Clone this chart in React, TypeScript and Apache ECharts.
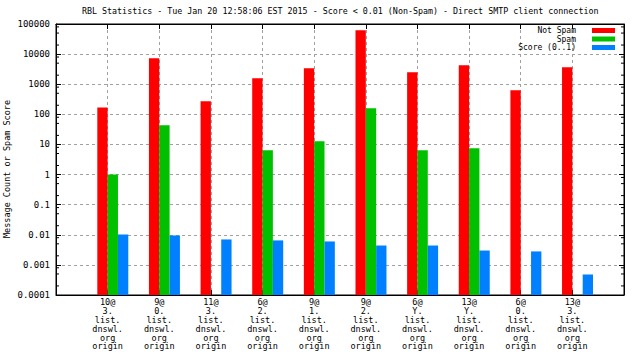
import React, { useEffect, useRef } from 'react';
import * as echarts from 'echarts';

const FONT = '"DejaVu Sans Mono", "Liberation Mono", monospace';

const categories = [
  '10@\n3.\nlist.\ndnswl.\norg\norigin',
  '9@\n0.\nlist.\ndnswl.\norg\norigin',
  '11@\n3.\nlist.\ndnswl.\norg\norigin',
  '6@\n2.\nlist.\ndnswl.\norg\norigin',
  '9@\n1.\nlist.\ndnswl.\norg\norigin',
  '9@\n2.\nlist.\ndnswl.\norg\norigin',
  '6@\nY.\nlist.\ndnswl.\norg\norigin',
  '13@\nY.\nlist.\ndnswl.\norg\norigin',
  '6@\n0.\nlist.\ndnswl.\norg\norigin',
  '13@\n3.\nlist.\ndnswl.\norg\norigin',
];

const notSpam: (number | null)[] = [170, 7300, 270, 1580, 3400, 62000, 2500, 4300, 630, 3650];
const spam: (number | null)[] = [1.0, 43, null, 6.4, 12.8, 160, 6.4, 7.5, null, null];
const score: (number | null)[] = [0.0103, 0.0095, 0.007, 0.0065, 0.006, 0.0044, 0.0044, 0.003, 0.0028, 0.00048];

const yTickLabels = ['0.0001', '0.001', '0.01', '0.1', '1', '10', '100', '1000', '10000', '100000'];
const minorMultipliers = [2, 5, 8];

const seriesNames = ['Not Spam', 'Spam', 'Score (0..1)'];
const seriesColors = ['#ff0000', '#00c000', '#0080ff'];
const seriesValues = [notSpam, spam, score];
const barOffsets = [-0.1, 0.1, 0.3];
const BAR_HALF = 0.1;
const Y_MIN = 0.0001;
const Y_MAX = 100000;

const TITLE = 'RBL Statistics - Tue Jan 20 12:58:06 EST 2015 - Score < 0.01 (Non-Spam) - Direct SMTP client connection';
const Y_NAME = 'Message Count or Spam Score';

export default function App() {
  const ref = useRef<HTMLDivElement>(null);

  useEffect(() => {
    document.body.style.margin = '0';
    const chart = echarts.init(ref.current!, undefined, { renderer: 'svg' });

    const minorVals: number[][] = [];
    for (let e = -4; e <= 4; e++) {
      for (const m of minorMultipliers) minorVals.push([0, m * Math.pow(10, e)]);
    }

    const barSeries = seriesValues.map((vals, k) => ({
      name: seriesNames[k],
      type: 'custom',
      xAxisIndex: 0,
      yAxisIndex: 0,
      encode: { x: 0, y: 1 },
      itemStyle: { color: seriesColors[k] },
      data: vals
        .map((v, i) => (v == null ? null : [i + barOffsets[k], v]))
        .filter((d) => d != null),
      renderItem: (params: any, api: any) => {
        const x = api.value(0);
        const v = api.value(1);
        const top = api.coord([x - BAR_HALF, v]);
        const base = api.coord([x + BAR_HALF, Y_MIN]);
        return {
          type: 'rect',
          shape: { x: top[0], y: top[1], width: base[0] - top[0], height: base[1] - top[1] },
          style: { fill: seriesColors[k] },
        };
      },
    }));

    const legendTops = [26.5, 35, 43.5];

    const axisLineStyle = { show: true, onZero: false, lineStyle: { color: '#000' } };
    const tickStyle = { show: true, inside: true, length: 5, lineStyle: { color: '#000' } };

    const option: any = {
      animation: false,
      backgroundColor: '#ffffff',
      textStyle: { fontFamily: FONT },
      title: {
        text: TITLE,
        left: 82,
        top: 7,
        padding: 0,
        textStyle: { fontFamily: FONT, fontSize: 8.34, fontWeight: 'normal', color: '#000' },
      },
      legend: seriesNames.map((n, k) => ({
        data: [n],
        right: 25,
        top: legendTops[k],
        padding: 0,
        align: 'right',
        icon: 'rect',
        itemWidth: 23,
        itemHeight: 5,
        selectedMode: false,
        textStyle: { fontFamily: FONT, fontSize: 8, color: '#000', lineHeight: 8, padding: [0, 11, 0, 0] },
      })),
      graphic: [
        {
          type: 'text',
          x: 7,
          y: 169,
          rotation: Math.PI / 2,
          silent: true,
          style: {
            text: Y_NAME,
            fontFamily: FONT,
            fontSize: 8.5,
            fill: '#000',
            align: 'center',
            verticalAlign: 'middle',
          },
        },
      ],
      grid: {
        left: 56,
        right: 16,
        top: 24,
        bottom: 65,
        containLabel: false,
        outerBoundsMode: 'none',
        show: true,
        borderColor: '#000',
        borderWidth: 1,
        backgroundColor: 'transparent',
      },
      xAxis: [
        {
          type: 'value',
          min: -1,
          max: 10,
          interval: 1,
          position: 'bottom',
          axisLine: axisLineStyle,
          axisTick: tickStyle,
          axisLabel: {
            show: true,
            margin: 3,
            fontFamily: FONT,
            fontSize: 8.5,
            lineHeight: 8.8,
            color: '#000',
            formatter: (v: number) => {
              const i = Math.round(v);
              return i >= 0 && i < categories.length && Math.abs(v - i) < 1e-6 ? categories[i] : '';
            },
          },
          splitLine: { show: true, lineStyle: { color: '#a0a0a0', type: [3, 3], width: 1 } },
        },
        {
          type: 'value',
          min: -1,
          max: 10,
          interval: 1,
          position: 'top',
          axisLine: axisLineStyle,
          axisTick: tickStyle,
          axisLabel: { show: false },
          splitLine: { show: false },
        },
      ],
      yAxis: [
        {
          type: 'log',
          logBase: 10,
          min: Y_MIN,
          max: Y_MAX,
          interval: 1,
          position: 'left',
          axisLine: axisLineStyle,
          axisTick: tickStyle,
          axisLabel: {
            margin: 6,
            fontFamily: FONT,
            fontSize: 9,
            color: '#000',
            formatter: (v: number) => {
              const idx = Math.round(Math.log10(v)) + 4;
              return yTickLabels[idx] ?? '';
            },
          },
          splitLine: { show: true, lineStyle: { color: '#a0a0a0', type: [3, 3], width: 1 } },
        },
        {
          type: 'log',
          logBase: 10,
          min: Y_MIN,
          max: Y_MAX,
          interval: 1,
          position: 'right',
          axisLine: axisLineStyle,
          axisTick: tickStyle,
          axisLabel: { show: false },
          splitLine: { show: false },
        },
      ],
      series: [
        ...barSeries,
        {
          name: 'minorTicks',
          type: 'custom',
          xAxisIndex: 0,
          yAxisIndex: 0,
          encode: { x: 0, y: 1 },
          silent: true,
          z: 5,
          data: minorVals,
          renderItem: (params: any, api: any) => {
            const y = api.coord([0, api.value(1)])[1];
            const cs = params.coordSys;
            const st = { stroke: '#000', lineWidth: 1 };
            return {
              type: 'group',
              children: [
                { type: 'line', shape: { x1: cs.x, y1: y, x2: cs.x + 3, y2: y }, style: st },
                { type: 'line', shape: { x1: cs.x + cs.width - 3, y1: y, x2: cs.x + cs.width, y2: y }, style: st },
              ],
            };
          },
        },
      ],
    };

    chart.setOption(option);
    return () => chart.dispose();
  }, []);

  return <div ref={ref} style={{ width: 640, height: 360 }} />;
}
